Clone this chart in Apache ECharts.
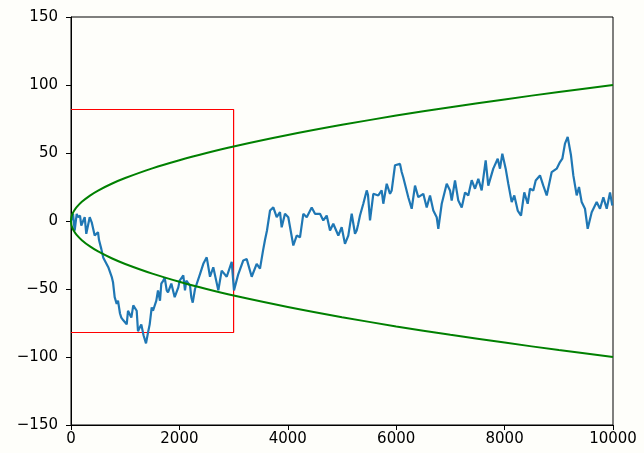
<!DOCTYPE html>
<html>
<head>
<meta charset="utf-8">
<script src="https://cdn.jsdelivr.net/npm/echarts@6/dist/echarts.min.js"></script>
<style>
  html, body { margin: 0; padding: 0; background: #fefefa; }
  #chart { width: 644px; height: 453px; }
</style>
</head>
<body>
<div id="chart"></div>
<script>
// Random walk: step index and position
const walkSteps = [
  0, 37, 68, 105, 129, 166, 190, 253, 282, 345,
  382, 437, 498, 517, 559, 596, 688, 751, 775, 806,
  843, 867, 904, 928, 965, 1028, 1052, 1113, 1149, 1212,
  1236, 1297, 1338, 1384, 1426, 1452, 1489, 1513, 1574, 1605,
  1642, 1666, 1703, 1728, 1766, 1790, 1851, 1913, 1980, 2005,
  2072, 2103, 2128, 2196, 2220, 2246, 2288, 2380, 2441, 2504,
  2565, 2625, 2718, 2780, 2873, 2965, 3007, 3087, 3179, 3242,
  3334, 3426, 3487, 3542, 3579, 3616, 3672, 3733, 3795, 3856,
  3887, 3948, 4009, 4102, 4164, 4225, 4286, 4349, 4441, 4502,
  4594, 4655, 4718, 4779, 4839, 4932, 4994, 5055, 5116, 5179,
  5240, 5271, 5295, 5332, 5393, 5456, 5480, 5517, 5578, 5670,
  5732, 5762, 5825, 5886, 5917, 5978, 6009, 6070, 6101, 6131,
  6223, 6286, 6347, 6408, 6500, 6563, 6624, 6685, 6747, 6777,
  6840, 6932, 6993, 7024, 7085, 7146, 7209, 7270, 7330, 7393,
  7454, 7515, 7577, 7651, 7699, 7791, 7873, 7915, 7958, 8020,
  8068, 8131, 8179, 8242, 8303, 8363, 8426, 8469, 8530, 8574,
  8653, 8714, 8777, 8869, 8961, 9022, 9065, 9114, 9164, 9225,
  9268, 9330, 9373, 9422, 9483, 9533, 9607, 9699, 9760, 9822,
  9884, 9945, 9987];
const walkValues = [
  0, 5.3, -7, 5.3, 2.8, 4, -3.3, 2.8, -9.4, 2.8,
  -1, -10.7, -8.2, -14, -20.5, -27, -34, -41, -45, -56,
  -61, -58.6, -68, -71, -73, -76, -66, -71, -62, -66,
  -81, -76, -84, -90, -81, -76, -63.5, -66, -58.6, -51,
  -58.6, -46, -43.8, -41.4, -51, -52.5, -46, -56, -48.8, -43.8,
  -40, -51, -43.8, -47.5, -56, -60, -50, -39, -31.5, -26.7,
  -41, -34, -51, -36.5, -41, -30, -51, -39, -29, -28,
  -41, -31.5, -35, -22, -14, -7, 7.7, 10, 2.8, 6.5,
  -4.6, 5.3, 2.8, -18, -10.7, -12, 5.3, 2.8, 10, 5.3,
  5.3, 0.4, 4, -7, -2, -10.7, -4.6, -16.8, -10.7, 5.3,
  -9.4, -7, -3, 4, 12.7, 22.5, 19, 0.4, 20, 18.8,
  22.5, 12.7, 27.4, 20, 22.5, 41, 42, 42, 36, 32,
  17.5, 9, 26, 17.5, 20, 10, 18.8, 7.7, 2.8, -5.7,
  12.7, 27.4, 22.5, 15, 29.8, 15, 10, 21, 18.8, 30,
  23.7, 31, 22.5, 44.6, 26, 38.5, 45.8, 38.5, 49.5, 38.5,
  27.4, 13.9, 18.8, 7.7, 4, 21, 12.7, 23.7, 22.5, 29.8,
  33.5, 26, 18.8, 36, 38.5, 43.3, 45.8, 56.9, 61.8, 48.3,
  33.5, 18.8, 25, 13.9, 9, -5.7, 6.5, 13.9, 9, 17.5,
  9, 21, 11.4];

// Envelope curves (upper and lower)
const envSteps = [0, 10, 30, 60, 100, 200, 350, 500, 750, 1000, 1500, 2000, 2500, 3000, 4000, 5000, 6000, 7000, 8000, 9000, 10000];
const envUpper = [0, 3.2, 5.5, 7.7, 10, 14.1, 18.7, 22.4, 27.4, 31.6, 38.7, 44.7, 50, 54.8, 63.2, 70.7, 77.5, 83.7, 89.4, 94.9, 100];
const envLower = [0, -3.2, -5.5, -7.7, -10, -14.1, -18.7, -22.4, -27.4, -31.6, -38.7, -44.7, -50, -54.8, -63.2, -70.7, -77.5, -83.7, -89.4, -94.9, -100];

// Highlight box outline (left side sits on the y axis)
const boxSteps = [0, 3000, 3000, 0];
const boxValues = [82, 82, -82, -82];

const xTicks = [0, 2000, 4000, 6000, 8000, 10000];
const yTicks = [-150, -100, -50, 0, 50, 100, 150];

const zip = (xs, ys) => xs.map((x, i) => [x, ys[i]]);
const fmt = v => String(v).replace('-', '\u2212');

const chart = echarts.init(document.getElementById('chart'), null, { renderer: 'canvas' });
const axisFont = { fontFamily: 'DejaVu Sans', fontSize: 15, color: '#000' };

chart.setOption({
  backgroundColor: '#fefefa',
  animation: false,
  grid: { left: 71, top: 17, right: 31, bottom: 28, show: true, borderColor: '#000', borderWidth: 1, backgroundColor: 'transparent' },
  xAxis: {
    type: 'value', min: xTicks[0], max: xTicks[xTicks.length - 1], interval: 2000,
    axisLine: { show: true, onZero: false, lineStyle: { color: '#000', width: 1 } },
    axisTick: { show: true, inside: false, length: 5, lineStyle: { color: '#000' } },
    axisLabel: Object.assign({ margin: 7, formatter: fmt }, axisFont),
    splitLine: { show: false }
  },
  yAxis: {
    type: 'value', min: yTicks[0], max: yTicks[yTicks.length - 1], interval: 50,
    axisLine: { show: true, onZero: false, lineStyle: { color: '#000', width: 1 } },
    axisTick: { show: true, inside: false, length: 5, lineStyle: { color: '#000' } },
    axisLabel: Object.assign({ margin: 13, formatter: fmt }, axisFont),
    splitLine: { show: false }
  },
  series: [
    {
      type: 'line', data: zip(boxSteps, boxValues), symbol: 'none', z: 2,
      lineStyle: { color: '#ff0000', width: 1.2 }
    },
    {
      type: 'line', data: zip(walkSteps, walkValues), symbol: 'none', z: 3,
      lineStyle: { color: '#1f77b4', width: 2.2 }
    },
    {
      type: 'line', data: zip(envSteps, envUpper), symbol: 'none', smooth: 0.3, z: 4,
      lineStyle: { color: '#008000', width: 2 }
    },
    {
      type: 'line', data: zip(envSteps, envLower), symbol: 'none', smooth: 0.3, z: 4,
      lineStyle: { color: '#008000', width: 2 }
    }
  ]
});
</script>
</body>
</html>
